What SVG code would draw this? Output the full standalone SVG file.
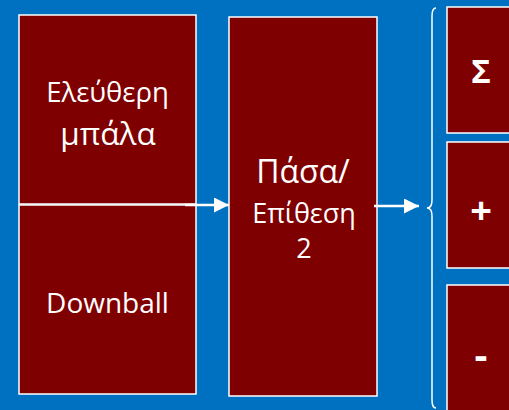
<svg xmlns="http://www.w3.org/2000/svg" width="509" height="410" viewBox="0 0 509 410">
<style>
.box{fill:#7F0000;stroke:#FFFFFF;stroke-width:1.5}
.t{fill:#FFFFFF;font-family:"Open Sans","Noto Sans",sans-serif;text-anchor:middle}
.b{font-weight:bold}
.con{stroke:#FFFFFF;stroke-width:2.5;fill:none}
</style>
<defs>
<marker id="ah" viewBox="0 0 10 10" refX="10" refY="5" markerWidth="6" markerHeight="6" markerUnits="strokeWidth" orient="auto">
<path d="M0,0 L10,5 L0,10 Z" fill="#FFFFFF"/>
</marker>
</defs>
<rect x="0" y="0" width="509" height="410" fill="#0070C0"/>
<g id="node-eleftheri">
<rect class="box" x="19" y="15" width="177" height="189"/>
<text class="t" x="107.5" y="102" font-size="27.5">Ελεύθερη</text>
<text class="t" x="108" y="145" font-size="31.5">μπάλα</text>
</g>
<g id="node-downball">
<rect class="box" x="19" y="205" width="177" height="189"/>
<text class="t" x="107.5" y="313" font-size="28">Downball</text>
</g>
<g id="node-pasa">
<rect class="box" x="229" y="17" width="148" height="379"/>
<text class="t" x="303" y="183" font-size="32">Πάσα/</text>
<text class="t" x="304" y="223" font-size="27">Επίθεση</text>
<text class="t" x="304" y="258" font-size="27">2</text>
</g>
<g id="node-sigma">
<rect class="box" x="447" y="7" width="80" height="126"/>
<text class="t b" x="481" y="83" font-size="33">Σ</text>
</g>
<g id="node-plus">
<rect class="box" x="447" y="142" width="80" height="126"/>
<text class="t b" x="481" y="224" font-size="38">+</text>
</g>
<g id="node-minus">
<rect class="box" x="447" y="285" width="80" height="140"/>
<text class="t b" x="481" y="369" font-size="40">-</text>
</g>
<g id="connectors">
<line class="con" x1="185" y1="205" x2="229" y2="205" marker-end="url(#ah)"/>
<line class="con" x1="374" y1="206" x2="419" y2="206" marker-end="url(#ah)"/>
<path d="M436,8 Q432,8 432,16 L432,200 Q432,208 427,208 Q432,208 432,216 L432,400 Q432,408 436,408" stroke="#FFFFFF" stroke-width="1.5" fill="none"/>
</g>
</svg>
